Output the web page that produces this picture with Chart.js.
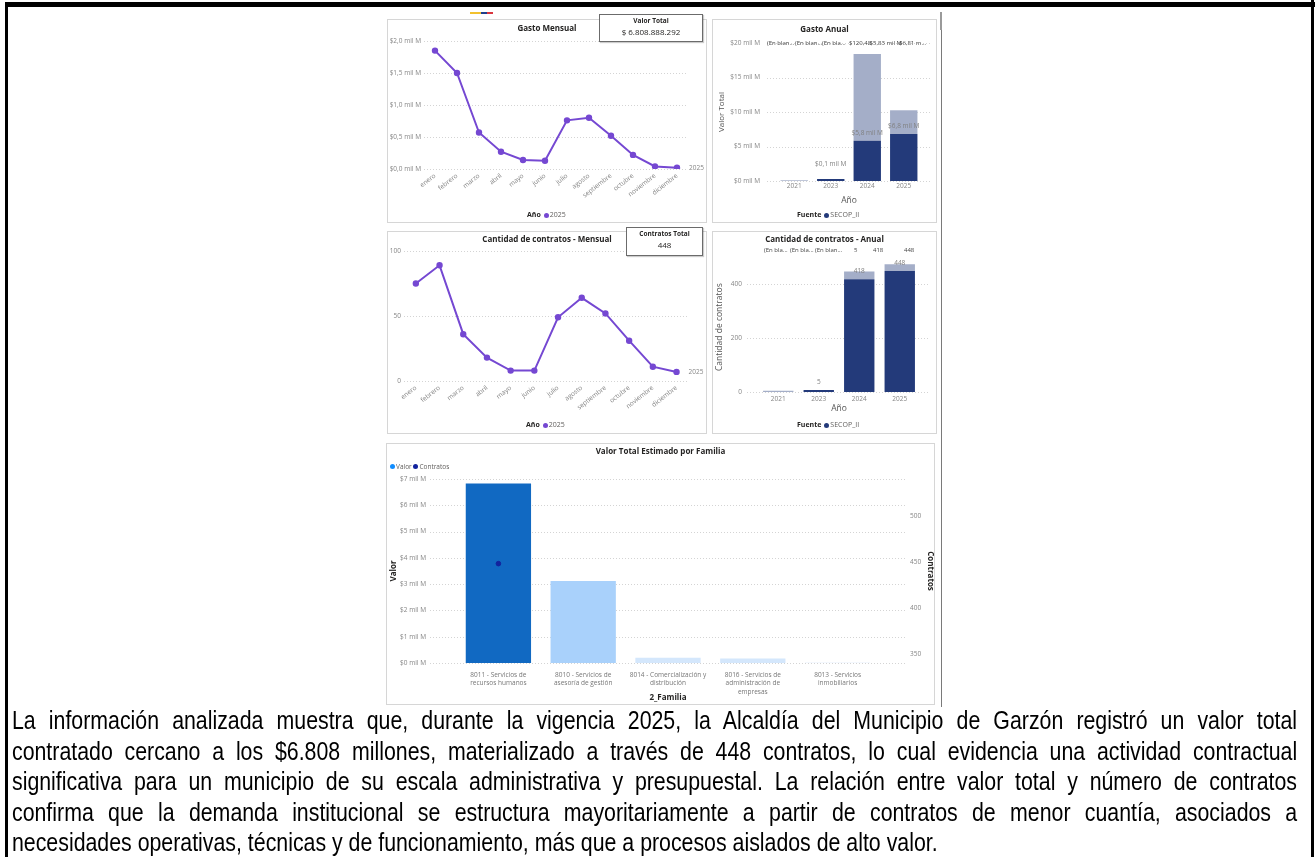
<!DOCTYPE html>
<html lang="es">
<head>
<meta charset="utf-8">
<title>Contratación Alcaldía de Garzón 2025</title>
<script src="https://cdn.jsdelivr.net/npm/chart.js@4.4.1/dist/chart.umd.min.js"></script>
<style>
  html, body { margin: 0; padding: 0; background: #fff; }
  body { position: relative; width: 1315px; height: 857px; overflow: hidden; font-family: "Open Sans", sans-serif; color: #252423; }
  .abs { position: absolute; }
  .panel { position: absolute; box-sizing: border-box; border: 1px solid #d6d6d6; background: #fff; }
  .box { position: absolute; }
  .title { position: absolute; text-align: center; font-size: 8px; font-weight: 700; line-height: 12px; white-space: nowrap; }
  .legend { position: absolute; font-size: 7px; line-height: 10px; color: #605e5c; white-space: nowrap; }
  .legend b { color: #252423; margin-right: 3px; }
  .dot { display: inline-block; width: 5px; height: 5px; border-radius: 50%; margin-right: 1px; vertical-align: -0.5px; }
  .card { position: absolute; box-sizing: border-box; border: 1px solid #6b6b6b; background: #fff; text-align: center; box-shadow: 1px 1px 1px rgba(0,0,0,.2); }
  .card .ct { font-size: 6.5px; font-weight: 700; line-height: 9px; margin-top: 1px; }
  .card .cv { font-size: 8px; line-height: 14px; }
  .toprow { position: absolute; font-size: 6px; line-height: 8px; color: #444; white-space: nowrap; }
  #texto { position: absolute; left: 12px; top: 705.3px; font-family: "Liberation Sans", Arial, sans-serif; font-size: 26px; line-height: 30.5px; color: #000; transform: scaleX(0.82); transform-origin: 0 0; }
  #texto .ln { display: block; width: max-content; white-space: pre; }
</style>
</head>
<body>

<!-- page frame -->
<div class="abs" style="left:5px;top:2px;width:1310px;height:5px;background:#000"></div>
<div class="abs" style="left:5px;top:2px;width:3px;height:855px;background:#000"></div>
<div class="abs" style="left:1311px;top:0;width:3px;height:857px;background:#000"></div>
<div class="abs" style="left:941px;top:13px;width:1px;height:694px;background:#7a7a7a"></div>
<div class="abs" style="left:940px;top:12px;width:2px;height:18px;background:#9a9a9a"></div>
<div class="abs" style="left:470px;top:12px;width:11px;height:2px;background:#f2c12e"></div>
<div class="abs" style="left:481px;top:12px;width:6px;height:2px;background:#203f8a"></div>
<div class="abs" style="left:487px;top:12px;width:6px;height:2px;background:#d9363e"></div>

<!-- panels -->
<div class="panel" style="left:387px;top:19px;width:320px;height:204px"></div>
<div class="panel" style="left:712px;top:19px;width:225px;height:204px"></div>
<div class="panel" style="left:387px;top:231px;width:320px;height:203px"></div>
<div class="panel" style="left:712px;top:231px;width:225px;height:203px"></div>
<div class="panel" style="left:386px;top:443px;width:549px;height:262px"></div>

<!-- chart canvases -->
<div class="box" style="left:387px;top:20px;width:319px;height:202px"><canvas id="cGastoMes"></canvas></div>
<div class="box" style="left:712px;top:20px;width:224px;height:202px"><canvas id="cGastoAnio"></canvas></div>
<div class="box" style="left:387px;top:232px;width:319px;height:200px"><canvas id="cContMes"></canvas></div>
<div class="box" style="left:712px;top:232px;width:224px;height:200px"><canvas id="cContAnio"></canvas></div>
<div class="box" style="left:386px;top:443px;width:549px;height:263px"><canvas id="cFamilia"></canvas></div>

<!-- titles -->
<div class="title" style="left:387px;top:22px;width:320px">Gasto Mensual</div>
<div class="title" style="left:712px;top:23px;width:225px">Gasto Anual</div>
<div class="title" style="left:387px;top:233px;width:320px">Cantidad de contratos - Mensual</div>
<div class="title" style="left:712px;top:233px;width:225px">Cantidad de contratos - Anual</div>
<div class="title" style="left:386px;top:445px;width:549px">Valor Total Estimado por Familia</div>

<!-- cards -->
<div class="card" style="left:599px;top:14px;width:104px;height:28px">
  <div class="ct">Valor Total</div><div class="cv" id="valorTotal"></div>
</div>
<div class="card" style="left:626px;top:227px;width:77px;height:29px">
  <div class="ct">Contratos Total</div><div class="cv" id="contratosTotal"></div>
</div>

<!-- header label rows -->
<div class="toprow" style="left:767px;top:39px">(En blan...</div>
<div class="toprow" style="left:795px;top:39px">(En blan...</div>
<div class="toprow" style="left:822px;top:39px">(En bla...</div>
<div class="toprow" style="left:849px;top:39px">$120,48</div>
<div class="toprow" style="left:868px;top:39px">.$5,83 mil M</div>
<div class="toprow" style="left:899px;top:39px">$6,81 m...</div>

<div class="toprow" style="left:764px;top:246px">(En bla...</div>
<div class="toprow" style="left:790px;top:246px">(En bla...</div>
<div class="toprow" style="left:815px;top:246px">(En blan...</div>
<div class="toprow" style="left:854px;top:246px">5</div>
<div class="toprow" style="left:873px;top:246px">418</div>
<div class="toprow" style="left:904px;top:246px">448</div>

<!-- legends -->
<div class="legend" style="left:527px;top:210px"><b>Año</b><span class="dot" style="background:#7548d2"></span>2025</div>
<div class="legend" style="left:526px;top:420px"><b>Año</b><span class="dot" style="background:#7548d2"></span>2025</div>
<div class="legend" style="left:797px;top:210px"><b>Fuente</b><span class="dot" style="background:#233a7a"></span>SECOP_II</div>
<div class="legend" style="left:797px;top:420px"><b>Fuente</b><span class="dot" style="background:#233a7a"></span>SECOP_II</div>
<div class="legend" style="left:390px;top:461.5px;font-size:6.5px"><span class="dot" style="background:#118dff"></span>Valor <span class="dot" style="background:#12239e"></span>Contratos</div>

<!-- paragraph -->
<div id="texto" data-width="1567">
  <span class="ln">La información analizada muestra que, durante la vigencia 2025, la Alcaldía del Municipio de Garzón registró un valor total</span>
  <span class="ln">contratado cercano a los $6.808 millones, materializado a través de 448 contratos, lo cual evidencia una actividad contractual</span>
  <span class="ln">significativa para un municipio de su escala administrativa y presupuestal. La relación entre valor total y número de contratos</span>
  <span class="ln">confirma que la demanda institucional se estructura mayoritariamente a partir de contratos de menor cuantía, asociados a</span>
  <span class="ln last">necesidades operativas, técnicas y de funcionamiento, más que a procesos aislados de alto valor.</span>
</div>

<script>
// ──────────────────────────────────────────────
//  Data
// ──────────────────────────────────────────────
const VALOR_TOTAL = 6808888292;
const CONTRATOS_TOTAL = 448;

const MESES = ['enero', 'febrero', 'marzo', 'abril', 'mayo', 'junio', 'julio',
               'agosto', 'septiembre', 'octubre', 'noviembre', 'diciembre'];
const SERIE_ANIO = '2025';

// Gasto mensual 2025, in "mil M" (thousands of millions of pesos)
const GASTO_MENSUAL = [1.85, 1.50, 0.57, 0.27, 0.14, 0.13, 0.76, 0.80, 0.52, 0.22, 0.04, 0.02];
// Contratos firmados por mes, 2025
const CONTRATOS_MENSUAL = [75, 89, 36, 18, 8, 8, 49, 64, 52, 31, 11, 7];

const ANIOS = ['2021', '2023', '2024', '2025'];
// Gasto anual, mil M: SECOP_II and the blank source stacked on top
const GASTO_SECOP = [null, 0.12, 5.83, 6.81];
const GASTO_BLANCO = [0.1, 0, 12.56, 3.44];
// Cantidad de contratos anual
const CONTRATOS_SECOP = [null, 5, 418, 448];
const CONTRATOS_BLANCO = [5, 0, 28, 25];

const FAMILIAS = [
    ['8011 - Servicios de', 'recursos humanos'],
    ['8010 - Servicios de', 'asesoría de gestión'],
    ['8014 - Comercialización y', 'distribución'],
    ['8016 - Servicios de', 'administración de', 'empresas'],
    ['8013 - Servicios', 'inmobiliarios'],
];
const VALOR_FAMILIA = [6.83, 3.12, 0.20, 0.17, 0.02];       // mil M
const CONTRATOS_FAMILIA = [448, null, null, null, null];   // only visible point
const CONTRATOS_TICKS = [350, 400, 450, 500];

// ──────────────────────────────────────────────
//  Styling
// ──────────────────────────────────────────────
const FONT = '"Open Sans", sans-serif';
const TICK_COLOR = '#858585';
const GRID_COLOR = '#d4d4d4';
const PURPLE = '#7548d2';
const NAVY = '#233a7a';
const SLATE = '#a4aec8';
const FAMILIA_COLORS = ['#1169c2', '#a9d1fb', '#d4e7fc', '#d4e7fc', '#e9f2fd'];

Chart.defaults.font.family = FONT;
Chart.defaults.color = TICK_COLOR;

const font = (size, weight, lineHeight) => ({ family: FONT, size, weight: weight || 'normal', lineHeight: lineHeight || 1.2 });
const milM1 = v => '$' + v.toFixed(1).replace('.', ',') + ' mil M';
const dots = n => String(n).replace(/\B(?=(\d{3})+(?!\d))/g, '.');

document.getElementById('valorTotal').textContent = '$ ' + dots(VALOR_TOTAL);
document.getElementById('contratosTotal').textContent = CONTRATOS_TOTAL;

// ──────────────────────────────────────────────
//  Small plugins
// ──────────────────────────────────────────────
// dotted horizontal gridlines that run wider than the plot area (Power BI look)
function wideGrid(left, right, axis) {
    return {
        id: 'wideGrid',
        beforeDatasetsDraw(chart) {
            const s = chart.scales[axis || 'y'];
            const ctx = chart.ctx;
            ctx.save();
            ctx.strokeStyle = GRID_COLOR;
            ctx.lineWidth = 1;
            ctx.setLineDash([1, 2]);
            s.ticks.forEach(t => {
                const y = Math.round(s.getPixelForValue(t.value)) + 0.5;
                ctx.beginPath();
                ctx.moveTo(left, y);
                ctx.lineTo(right, y);
                ctx.stroke();
            });
            ctx.restore();
        }
    };
}

// series name written after the last point
const endLabel = {
    id: 'endLabel',
    afterDatasetsDraw(chart) {
        const pts = chart.getDatasetMeta(0).data;
        const last = pts[pts.length - 1];
        const ctx = chart.ctx;
        ctx.save();
        ctx.font = '6.5px ' + FONT;
        ctx.fillStyle = TICK_COLOR;
        ctx.textAlign = 'left';
        ctx.textBaseline = 'middle';
        ctx.fillText(chart.data.datasets[0].label, last.x + 12, last.y);
        ctx.restore();
    }
};

// data labels just above the bottom stack segment
function barLabels(dsIndex, minRise, format) {
    return {
        id: 'barLabels',
        afterDatasetsDraw(chart) {
            const data = chart.data.datasets[dsIndex].data;
            const meta = chart.getDatasetMeta(dsIndex);
            const ctx = chart.ctx;
            ctx.save();
            ctx.font = '6.5px ' + FONT;
            ctx.fillStyle = '#808080';
            ctx.textAlign = 'center';
            ctx.textBaseline = 'middle';
            meta.data.forEach((bar, i) => {
                const v = data[i];
                if (v == null || v <= 0) return;
                const y = Math.min(bar.y - 8, bar.base - minRise);
                ctx.fillText(format(v), bar.x, y);
            });
            ctx.restore();
        }
    };
}

// ──────────────────────────────────────────────
//  Monthly line charts
// ──────────────────────────────────────────────
function lineChart(id, values, padding, yWidth, yMax, step, fmt) {
    return new Chart(document.getElementById(id), {
        type: 'line',
        data: {
            labels: MESES,
            datasets: [{
                label: SERIE_ANIO,
                data: values,
                borderColor: PURPLE,
                backgroundColor: PURPLE,
                borderWidth: 2,
                pointRadius: 2.2,
                pointHoverRadius: 2.2,
                tension: 0,
            }]
        },
        plugins: [endLabel],
        options: {
            responsive: true,
            maintainAspectRatio: false,
            animation: false,
            layout: { padding },
            plugins: { legend: { display: false }, tooltip: { enabled: false } },
            scales: {
                x: {
                    offset: true,
                    grid: { display: false, drawTicks: false },
                    border: { display: false },
                    ticks: { color: TICK_COLOR, font: font(6.5), minRotation: 38, maxRotation: 38, padding: 3, autoSkip: false },
                    afterFit: s => { s.height = 30; }
                },
                y: {
                    min: 0,
                    max: yMax,
                    grid: { color: GRID_COLOR, drawTicks: false },
                    border: { display: false, dash: [1, 2] },
                    ticks: { stepSize: step, color: TICK_COLOR, font: font(6.5), padding: 3, callback: fmt },
                    afterFit: s => { s.width = yWidth; }
                }
            }
        }
    });
}

lineChart('cGastoMes', GASTO_MENSUAL, { top: 21, right: 18, bottom: 23, left: 0 }, 37, 2, 0.5, v => milM1(v));
lineChart('cContMes', CONTRATOS_MENSUAL, { top: 19, right: 17.6, bottom: 21, left: 0 }, 17, 100, 50, v => v);

// ──────────────────────────────────────────────
//  Yearly stacked bar charts
// ──────────────────────────────────────────────
function yearChart(id, bottomVals, topVals, cfg) {
    return new Chart(document.getElementById(id), {
        type: 'bar',
        data: {
            labels: ANIOS,
            datasets: [
                { label: 'SECOP_II', data: bottomVals, backgroundColor: NAVY, minBarLength: 2 },
                { label: '(En blanco)', data: topVals, backgroundColor: SLATE }
            ]
        },
        plugins: [wideGrid(cfg.gridLeft, cfg.gridRight), barLabels(0, cfg.minRise, cfg.label)],
        options: {
            responsive: true,
            maintainAspectRatio: false,
            animation: false,
            layout: { padding: cfg.padding },
            datasets: { bar: { categoryPercentage: 0.75, barPercentage: 1 } },
            plugins: { legend: { display: false }, tooltip: { enabled: false } },
            scales: {
                x: {
                    stacked: true,
                    grid: { display: false, drawTicks: false },
                    border: { display: false },
                    ticks: { color: TICK_COLOR, font: font(6.5), padding: cfg.xPad },
                    title: { display: true, text: 'Año', color: '#555', font: font(8.5), padding: { top: 0, bottom: cfg.titlePad } },
                    afterFit: s => { s.height = cfg.xHeight; }
                },
                y: {
                    stacked: true,
                    min: 0,
                    max: cfg.yMax,
                    grid: { display: false, drawTicks: false },
                    border: { display: false },
                    ticks: { stepSize: cfg.step, includeBounds: false, color: TICK_COLOR, font: font(6.5), padding: 16, callback: cfg.tick },
                    title: { display: true, text: cfg.yTitle, color: '#555', font: font(cfg.yTitleSize), padding: { top: cfg.yTitlePad, bottom: 0 } },
                    afterFit: s => { s.width = cfg.yWidth; }
                }
            }
        }
    });
}

yearChart('cGastoAnio', GASTO_SECOP, GASTO_BLANCO, {
    padding: { top: 23, right: 14, bottom: 12, left: 0 },
    yMax: 20, step: 5, yWidth: 64, yTitle: 'Valor Total', yTitleSize: 8, yTitlePad: 4.5,
    xHeight: 29, xPad: 1, titlePad: 4, gridLeft: 55, gridRight: 218, minRise: 17,
    tick: v => '$' + v + ' mil M', label: v => milM1(v)
});

yearChart('cContAnio', CONTRATOS_SECOP, CONTRATOS_BLANCO, {
    padding: { top: 30.4, right: 16, bottom: 15, left: 0 },
    yMax: 480, step: 200, yWidth: 46, yTitle: 'Cantidad de contratos', yTitleSize: 8.5, yTitlePad: 2,
    xHeight: 25, xPad: 3, titlePad: 3, gridLeft: 35, gridRight: 218, minRise: 0,
    tick: v => v, label: v => String(v)
});

// ──────────────────────────────────────────────
//  Valor por familia: columns + contratos marker
// ──────────────────────────────────────────────
new Chart(document.getElementById('cFamilia'), {
    type: 'bar',
    data: {
        labels: FAMILIAS,
        datasets: [
            {
                type: 'bar', label: 'Valor', data: VALOR_FAMILIA, backgroundColor: FAMILIA_COLORS,
                yAxisID: 'y', categoryPercentage: 0.77, barPercentage: 1, order: 2
            },
            {
                type: 'line', label: 'Contratos', data: CONTRATOS_FAMILIA, yAxisID: 'y2',
                borderColor: '#12239e', backgroundColor: '#12239e', pointRadius: 2.3, showLine: false, order: 1
            }
        ]
    },
    plugins: [wideGrid(44, 519)],
    options: {
        responsive: true,
        maintainAspectRatio: false,
        animation: false,
        layout: { padding: { top: 36, right: 0, bottom: 3, left: 0 } },
        plugins: { legend: { display: false }, tooltip: { enabled: false } },
        scales: {
            x: {
                grid: { display: false, drawTicks: false },
                border: { display: false },
                ticks: { color: '#777', font: font(6.5, 'normal', 1.33), padding: 7.4, maxRotation: 0, autoSkip: false },
                title: { display: true, text: '2_Familia', color: '#252423', font: font(8, 'bold'), padding: { top: 0, bottom: 0 } },
                afterFit: s => { s.height = 40; }
            },
            y: {
                min: 0,
                max: 7,
                grid: { display: false, drawTicks: false },
                border: { display: false },
                ticks: { stepSize: 1, color: TICK_COLOR, font: font(6.5), padding: 30, callback: v => '$' + v + ' mil M' },
                title: { display: true, text: 'Valor', color: '#252423', font: font(8, 'bold'), padding: { top: 3, bottom: 0 } },
                afterFit: s => { s.width = 70; }
            },
            y2: {
                position: 'right',
                min: 340,
                max: 540,
                grid: { display: false, drawTicks: false },
                border: { display: false },
                afterBuildTicks: s => { s.ticks = CONTRATOS_TICKS.map(v => ({ value: v })); },
                ticks: { color: TICK_COLOR, font: font(6.5), padding: 30 },
                title: { display: true, text: 'Contratos', color: '#252423', font: font(8, 'bold'), padding: { top: 0, bottom: 0 } },
                afterFit: s => { s.width = 55; }
            }
        }
    }
});

// ──────────────────────────────────────────────
//  Paragraph: justify each line to the box width
// ──────────────────────────────────────────────
function justifyText() {
    const box = document.getElementById('texto');
    const W = parseFloat(box.dataset.width);
    box.querySelectorAll('.ln').forEach(el => {
        el.style.wordSpacing = '0px';
        if (el.classList.contains('last')) return;
        const spaces = (el.textContent.match(/ /g) || []).length;
        el.style.wordSpacing = ((W - el.offsetWidth) / spaces) + 'px';
    });
}
justifyText();
document.fonts.ready.then(justifyText);
</script>
</body>
</html>
